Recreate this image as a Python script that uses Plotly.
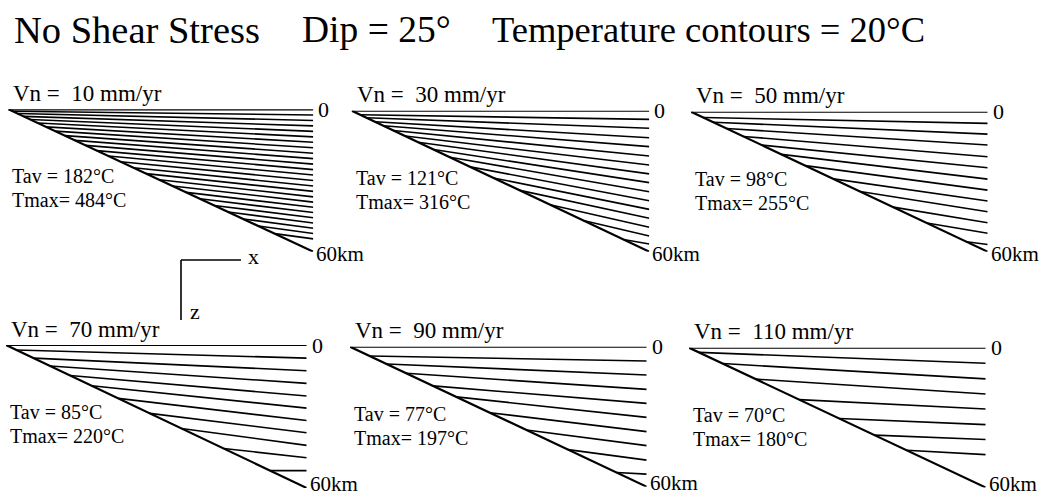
import math
import plotly.graph_objects as go

W, H = 1049, 497
DIP_DEG = 25
MAX_DEPTH = 60  # km
FONT = "Liberation Serif, Times New Roman, serif"

# ---------------- data ----------------
velocities = [10, 30, 50, 70, 90, 110]          # mm/yr
tav_values = [182, 121, 98, 85, 77, 70]          # deg C
tmax_values = [484, 316, 255, 220, 197, 180]     # deg C

# depth (km) at which each isotherm (20 C steps) leaves the slab surface
slab_depth_10 = [0.8, 1.8, 3.0, 4.3, 5.8, 7.4, 9.2, 11.1, 13.1, 15.2, 17.4, 19.7,
                 22.1, 24.6, 27.1, 29.7, 32.3, 35.0, 37.7, 40.5, 43.3, 46.2, 49.2, 52.4]
slab_depth_30 = [1.7, 3.0, 4.7, 6.4, 8.4, 10.8, 13.4, 16.5, 19.8, 23.9, 28.6, 33.9, 40.0, 46.7, 54.8]
slab_depth_50 = [2.5, 4.5, 7.2, 10.6, 14.3, 18.3, 23.1, 28.8, 34.2, 40.9, 47.7, 55.7]
slab_depth_70 = [2.1, 5.5, 8.8, 12.8, 17.1, 22.4, 28.7, 35.0, 43.4, 52.7]
slab_depth_90 = [4.0, 7.4, 11.4, 16.8, 21.5, 28.3, 35.7, 44.1, 53.9]
slab_depth_110 = [2.0, 6.8, 13.5, 22.3, 30.4, 37.5, 44.0]

# depth (km) of each isotherm at the landward (right) edge of the section
edge_depth_10 = [2.4, 4.7, 7.0, 9.3, 11.6, 13.9, 16.2, 18.5, 20.8, 23.1, 25.4, 27.7,
                 30.0, 32.3, 34.6, 36.9, 39.1, 41.3, 43.5, 45.7, 47.9, 50.1, 52.3, 54.6]
edge_depth_30 = [3.7, 7.5, 11.5, 15.3, 19.3, 23.1, 26.9, 30.6, 34.5, 38.3, 42.0, 45.8, 49.6, 53.3, 56.7]
edge_depth_50 = [5.0, 9.6, 14.3, 19.3, 24.0, 28.9, 33.6, 38.3, 42.9, 47.6, 52.1, 56.9]
edge_depth_70 = [5.5, 10.8, 16.1, 21.4, 26.5, 31.7, 36.8, 42.1, 47.3, 52.7]
edge_depth_90 = [6.1, 12.1, 18.3, 24.3, 30.3, 36.4, 42.4, 48.6, 54.6]
edge_depth_110 = [6.7, 13.4, 19.9, 26.3, 33.0, 39.4, 45.9]

slab_depths = [slab_depth_10, slab_depth_30, slab_depth_50, slab_depth_70, slab_depth_90, slab_depth_110]
edge_depths = [edge_depth_10, edge_depth_30, edge_depth_50, edge_depth_70, edge_depth_90, edge_depth_110]

# ---------------- layout (pixel boxes of each section: apex x, top y, right x, bottom y) ----------------
boxes = [
    (8.3, 109.3, 313.3, 251.7),
    (351.7, 110.7, 649.3, 251.7),
    (691.0, 111.7, 987.7, 251.7),
    (6.0, 345.0, 306.7, 488.0),
    (350.0, 346.7, 646.7, 486.7),
    (689.0, 347.7, 985.7, 487.5),
]

tan_dip = math.tan(math.radians(DIP_DEG))
X_MAX = MAX_DEPTH / tan_dip  # horizontal extent, km


def px(x):
    return x / W


def py(y):
    return 1 - y / H


fig = go.Figure()
annotations = []
shapes = []
layout_axes = {}

line_black = dict(color="black", width=1.6)
line_bold = dict(color="black", width=2.2)

for i, (v, tav, tmax, sd, ed, box) in enumerate(
        zip(velocities, tav_values, tmax_values, slab_depths, edge_depths, boxes)):
    n = i + 1
    xa = "x" if n == 1 else f"x{n}"
    ya = "y" if n == 1 else f"y{n}"
    x0, y0, x1, y1 = box
    layout_axes[f"xaxis{'' if n == 1 else n}"] = dict(
        domain=[px(x0), px(x1)], range=[0, X_MAX], visible=False, anchor=ya, fixedrange=True)
    layout_axes[f"yaxis{'' if n == 1 else n}"] = dict(
        domain=[py(y1), py(y0)], range=[MAX_DEPTH, 0], visible=False, anchor=xa, fixedrange=True)

    # surface line
    fig.add_trace(go.Scatter(x=[0, X_MAX], y=[0, 0], mode="lines", line=line_bold,
                             xaxis=xa, yaxis=ya, hoverinfo="skip", showlegend=False))
    # isotherms
    for d_s, d_e in zip(sd, ed):
        fig.add_trace(go.Scatter(x=[d_s / tan_dip, X_MAX], y=[d_s, d_e], mode="lines",
                                 line=line_black, xaxis=xa, yaxis=ya,
                                 hoverinfo="skip", showlegend=False))
    # slab surface (dipping plate boundary)
    fig.add_trace(go.Scatter(x=[0, X_MAX], y=[0, MAX_DEPTH], mode="lines", line=line_bold,
                             xaxis=xa, yaxis=ya, hoverinfo="skip", showlegend=False))

    bottom_row = i >= 3
    # labels
    annotations.append(dict(xref="paper", yref="paper", x=px(x0 + 3), y=py(y0 - 16),
                            text=f"Vn =\u00a0 {v} mm/yr", showarrow=False,
                            xanchor="left", yanchor="middle",
                            font=dict(family=FONT, size=23, color="black")))
    annotations.append(dict(xref="paper", yref="paper", x=px(x0 + 2), y=py(y0 + 67),
                            text=f"Tav = {tav}°C", showarrow=False,
                            xanchor="left", yanchor="middle",
                            font=dict(family=FONT, size=20, color="black")))
    annotations.append(dict(xref="paper", yref="paper", x=px(x0 + 2), y=py(y0 + 91),
                            text=f"Tmax= {tmax}°C", showarrow=False,
                            xanchor="left", yanchor="middle",
                            font=dict(family=FONT, size=20, color="black")))
    annotations.append(dict(xref=xa, yref=ya, x=X_MAX, y=0, xshift=3,
                            text="0", showarrow=False, xanchor="left", yanchor="middle",
                            font=dict(family=FONT, size=22, color="black")))
    annotations.append(dict(xref=xa, yref=ya, x=X_MAX, y=MAX_DEPTH, xshift=1,
                            yshift=4 if bottom_row else -2,
                            text="60km", showarrow=False, xanchor="left", yanchor="middle",
                            font=dict(family=FONT, size=21, color="black")))

# title
title_parts = [("No Shear Stress", 12, 38.5), ("Dip = 25°", 300, 37.5),
               ("Temperature contours = 20°C", 490, 36.5)]
for txt, xl, fs in title_parts:
    annotations.append(dict(xref="paper", yref="paper", x=px(xl), y=py(30), text=txt,
                            showarrow=False, xanchor="left", yanchor="middle",
                            font=dict(family=FONT, size=fs, color="black")))

# x / z orientation glyph
shapes.append(dict(type="line", xref="paper", yref="paper", x0=px(181), y0=py(260),
                   x1=px(241), y1=py(260), line=dict(color="black", width=1.6)))
shapes.append(dict(type="line", xref="paper", yref="paper", x0=px(181), y0=py(260),
                   x1=px(181), y1=py(320), line=dict(color="black", width=1.6)))
annotations.append(dict(xref="paper", yref="paper", x=px(246), y=py(256), text="x",
                        showarrow=False, xanchor="left", yanchor="middle",
                        font=dict(family=FONT, size=22, color="black")))
annotations.append(dict(xref="paper", yref="paper", x=px(188), y=py(311), text="z",
                        showarrow=False, xanchor="left", yanchor="middle",
                        font=dict(family=FONT, size=22, color="black")))

fig.update_layout(
    width=W, height=H,
    margin=dict(l=0, r=0, t=0, b=0),
    paper_bgcolor="white", plot_bgcolor="white",
    showlegend=False,
    annotations=annotations,
    shapes=shapes,
    **layout_axes,
)

fig.write_html("out.html", config={"displayModeBar": False})
